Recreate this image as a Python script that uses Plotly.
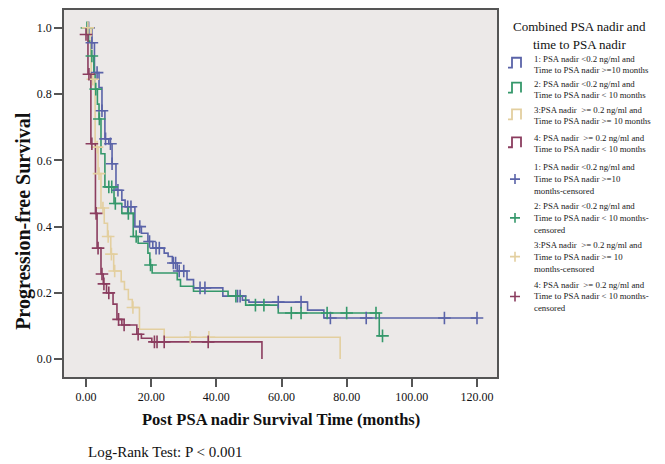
import plotly.graph_objects as go

# ---------------- data ----------------
group_names = ["1", "2", "3", "4"]
colors = ["#5a63a8", "#35986b", "#e3cf9f", "#8b3d5f"]

t1 = [0, 1.8, 2.6, 4.0, 4.9, 5.8, 7.0, 8.0, 9.2, 11.0, 12.0, 15.0, 17.0, 19.0, 20.5, 24.0, 25.2, 26.5, 28.0, 31.0, 33.0, 42.0, 48.0, 50.0, 68.0, 73.0, 120.0]
s1 = [1.0, 0.955, 0.865, 0.82, 0.75, 0.665, 0.65, 0.59, 0.51, 0.48, 0.46, 0.40, 0.38, 0.355, 0.335, 0.32, 0.31, 0.29, 0.266, 0.24, 0.215, 0.19, 0.178, 0.172, 0.148, 0.124, 0.124]
c1 = [0.8, 1.8, 3.4, 4.9, 6.0, 7.5, 8.0, 9.8, 12.8, 13.8, 16.5, 19.5, 21.5, 22.5, 26.8, 27.5, 28.6, 30.0, 35.0, 36.5, 46.5, 47.3, 59.0, 66.0, 75.0, 86.0, 110.0, 120.0]

t2 = [0, 0.8, 1.5, 2.4, 2.8, 3.5, 4.0, 4.6, 5.8, 8.6, 11.0, 14.5, 16.0, 19.0, 19.6, 20.3, 28.0, 29.0, 33.0, 43.6, 49.0, 59.0, 90.0, 91.0]
s2 = [1.0, 0.96, 0.915, 0.86, 0.815, 0.77, 0.725, 0.62, 0.52, 0.47, 0.44, 0.37, 0.35, 0.32, 0.284, 0.26, 0.24, 0.22, 0.205, 0.19, 0.163, 0.139, 0.07, 0.07]
c2 = [0.3, 1.8, 3.0, 4.1, 7.0, 7.9, 9.0, 13.0, 15.4, 19.8, 46.0, 52.0, 54.6, 63.0, 66.0, 74.0, 80.0, 89.0, 91.0]

t3 = [0, 1.6, 2.8, 3.7, 4.6, 5.6, 6.6, 7.6, 8.5, 10.8, 11.8, 13.0, 14.2, 16.4, 24.0, 78.0]
s3 = [1.0, 0.845, 0.64, 0.56, 0.456, 0.41, 0.37, 0.317, 0.266, 0.234, 0.21, 0.18, 0.156, 0.09, 0.066, 0.0]
c3 = [0.6, 2.1, 3.4, 4.0, 5.2, 6.8, 7.8, 8.8, 14.4, 32.0, 37.7]

t4 = [0, 0.6, 1.5, 2.9, 3.4, 4.6, 5.3, 6.3, 8.3, 9.5, 11.0, 15.6, 17.0, 20.2, 54.0]
s4 = [0.98, 0.86, 0.65, 0.44, 0.335, 0.257, 0.227, 0.2, 0.166, 0.12, 0.103, 0.075, 0.063, 0.052, 0.0]
c4 = [0.0, 0.9, 1.8, 3.1, 3.7, 4.9, 5.5, 7.0, 10.0, 11.7, 16.0, 21.0, 21.8, 24.0, 37.5]

x_ticks = [0, 20, 40, 60, 80, 100, 120]
y_ticks = [0.0, 0.2, 0.4, 0.6, 0.8, 1.0]

legend_title = ["Combined PSA nadir and", "time to PSA nadir"]
legend_lines = [
    ["1: PSA nadir <0.2 ng/ml and", "Time to PSA nadir >=10 months"],
    ["2: PSA nadir <0.2 ng/ml and", "Time to PSA nadir < 10 months"],
    ["3:PSA nadir  >= 0.2 ng/ml and", "Time to PSA nadir >= 10 months"],
    ["4: PSA nadir  >= 0.2 ng/ml and", "Time to PSA nadir < 10 months"],
]
legend_cens = [
    ["1: PSA nadir <0.2 ng/ml and", "Time to PSA nadir >=10", "months-censored"],
    ["2: PSA nadir <0.2 ng/ml and", "Time to PSA nadir < 10 months-", "censored"],
    ["3:PSA nadir  >= 0.2 ng/ml and", "Time to PSA nadir >= 10", "months-censored"],
    ["4: PSA nadir  >= 0.2 ng/ml and", "Time to PSA nadir < 10 months-", "censored"],
]

steps = [(t1, s1, c1), (t2, s2, c2), (t3, s3, c3), (t4, s4, c4)]


def surv_at(ts, ss, t):
    v = ss[0]
    for a, b in zip(ts, ss):
        if a <= t:
            v = b
    return v


fig = go.Figure()
for (ts, ss, cs), col, nm in zip(steps, colors, group_names):
    fig.add_trace(go.Scatter(x=ts, y=ss, mode="lines", line=dict(color=col, width=1.6, shape="hv"),
                             name=nm, showlegend=False, hoverinfo="skip"))
for (ts, ss, cs), col, nm in zip(steps, colors, group_names):
    fig.add_trace(go.Scatter(x=cs, y=[surv_at(ts, ss, c) for c in cs], mode="markers",
                             marker=dict(symbol="cross-thin", size=9, line=dict(color=col, width=1.6)),
                             name=nm + "-censored", showlegend=False, cliponaxis=False))

# ---------------- layout ----------------
L, R, T, B = 64, 497, 8, 377
W, H = 665, 464


def px(x):
    return (x - L) / (R - L)


def py(y):
    return (B - y) / (B - T)


serif = "Liberation Serif, Times New Roman, serif"
annotations = []
shapes = []

annotations.append(dict(text="<b>Progression-free Survival</b>", x=px(24), y=py(220), xref="paper", yref="paper",
                        textangle=-90, showarrow=False, font=dict(family=serif, size=20, color="#111"),
                        xanchor="center", yanchor="middle"))
annotations.append(dict(text="<b>Post PSA nadir Survival Time (months)</b>", x=px(281), y=py(420), xref="paper",
                        yref="paper", showarrow=False, font=dict(family=serif, size=16.5, color="#111"),
                        xanchor="center", yanchor="middle"))
annotations.append(dict(text="Log-Rank Test: P < 0.001", x=px(86), y=py(452), xref="paper", yref="paper",
                        showarrow=False, font=dict(family=serif, size=15, color="#111"),
                        xanchor="left", yanchor="middle"))

for i, line in enumerate(legend_title):
    annotations.append(dict(text=line, x=px(579), y=py(25 + 18 * i), xref="paper", yref="paper", showarrow=False,
                            font=dict(family=serif, size=13, color="#111"), xanchor="center", yanchor="middle"))

fs = 8.8
tx = 532
line_rows = [[57, 68], [82, 93], [109, 120], [137, 148]]
for k, (rows, lines) in enumerate(zip(line_rows, legend_lines)):
    for yy, line in zip(rows, lines):
        annotations.append(dict(text=line, x=px(tx), y=py(yy), xref="paper", yref="paper", showarrow=False,
                                font=dict(family=serif, size=fs, color="#222"), xanchor="left", yanchor="middle"))
    y0, y1 = rows[0] - 1, rows[1] - 2
    x0 = 508
    path = "M %f,%f L %f,%f L %f,%f L %f,%f L %f,%f" % (
        px(x0), py(y1), px(x0 + 4), py(y1), px(x0 + 4), py(y0), px(x0 + 13), py(y0), px(x0 + 13), py(y1))
    shapes.append(dict(type="path", path=path, xref="paper", yref="paper",
                       line=dict(color=colors[k], width=1.8)))

cens_rows = [[166, 178, 190], [205, 217, 229], [244, 256, 268], [284, 296, 308]]
for k, (rows, lines) in enumerate(zip(cens_rows, legend_cens)):
    for yy, line in zip(rows, lines):
        annotations.append(dict(text=line, x=px(tx), y=py(yy), xref="paper", yref="paper", showarrow=False,
                                font=dict(family=serif, size=fs, color="#222"), xanchor="left", yanchor="middle"))
    cx, cy = 515, rows[1]
    path = "M %f,%f L %f,%f M %f,%f L %f,%f" % (px(cx - 5), py(cy), px(cx + 5), py(cy),
                                                px(cx), py(cy - 5), px(cx), py(cy + 5))
    shapes.append(dict(type="path", path=path, xref="paper", yref="paper",
                       line=dict(color=colors[k], width=1.6)))

x_lo = (L - 86) / ((477 - 86) / 120.0)
x_hi = (R - 86) / ((477 - 86) / 120.0)
y_lo = -(B - 359) / (359 - 26.0)
y_hi = (359 - T) / (359 - 26.0)

fig.update_layout(
    width=W, height=H,
    margin=dict(l=L, r=W - R, t=T, b=H - B, pad=0),
    paper_bgcolor="white",
    plot_bgcolor="#ece9e8",
    showlegend=False,
    xaxis=dict(range=[x_lo, x_hi], tickvals=x_ticks, ticktext=["%.2f" % v for v in x_ticks],
               ticks="outside", ticklen=8, tickwidth=1.5, tickcolor="#555", showgrid=False, zeroline=False,
               showline=True, linecolor="#555", linewidth=1.5, mirror=True,
               tickfont=dict(family=serif, size=12, color="#111")),
    yaxis=dict(range=[y_lo, y_hi], tickvals=y_ticks, ticktext=["%.1f" % v for v in y_ticks],
               ticks="outside", ticklen=8, tickwidth=1.5, tickcolor="#555", showgrid=False, zeroline=False,
               showline=True, linecolor="#555", linewidth=1.5, mirror=True,
               tickfont=dict(family=serif, size=12, color="#111")),
    annotations=annotations,
    shapes=shapes,
)

fig.write_html("out.html", config={"displayModeBar": False},
               post_script="document.body.style.margin='0';document.body.style.padding='0';")
